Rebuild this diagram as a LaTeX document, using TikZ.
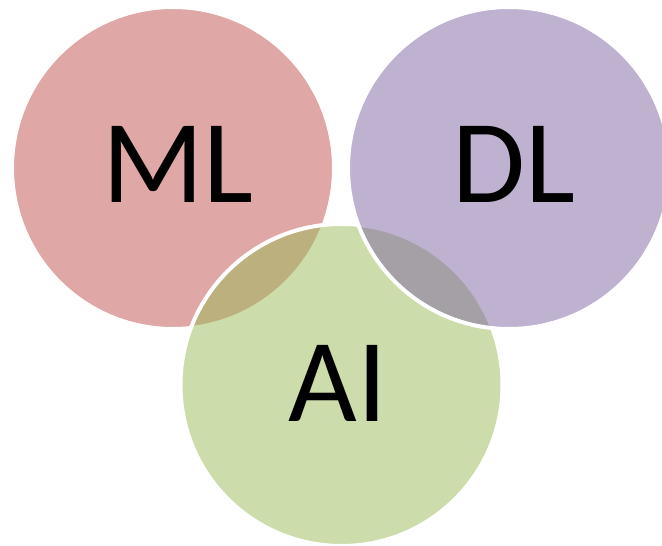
\documentclass[tikz,border=0pt]{standalone}
\usepackage{fontspec}
\setmainfont{Carlito}
\definecolor{mlred}{HTML}{C0504D}
\definecolor{dlpurple}{HTML}{8064A2}
\definecolor{aigreen}{HTML}{9BBB59}
\begin{document}
\begin{tikzpicture}[x=0.75pt,y=-0.75pt,
  venn/.style={draw=white,line width=3pt,fill opacity=0.5,draw opacity=1},
  lbl/.style={anchor=base,inner sep=0pt,font=\fontsize{89}{89}\selectfont,text=black}]
\useasboundingbox (0,0) rectangle (662,546);
\begin{scope}
\clip (0,0) rectangle (662,546);
\fill[white] (0,0) rectangle (662,546);
\path[venn,fill=mlred] (173,168) circle[radius=161];
\path[venn,fill=aigreen] (341.5,385) circle[radius=161];
\path[venn,fill=dlpurple] (509,168) circle[radius=161];
\end{scope}
\node[lbl] (ml) at (178,202) {ML};
\node[lbl] (dl) at (514,202) {DL};
\node[lbl] (ai) at (338,421) {AI};
\end{tikzpicture}
\end{document}
